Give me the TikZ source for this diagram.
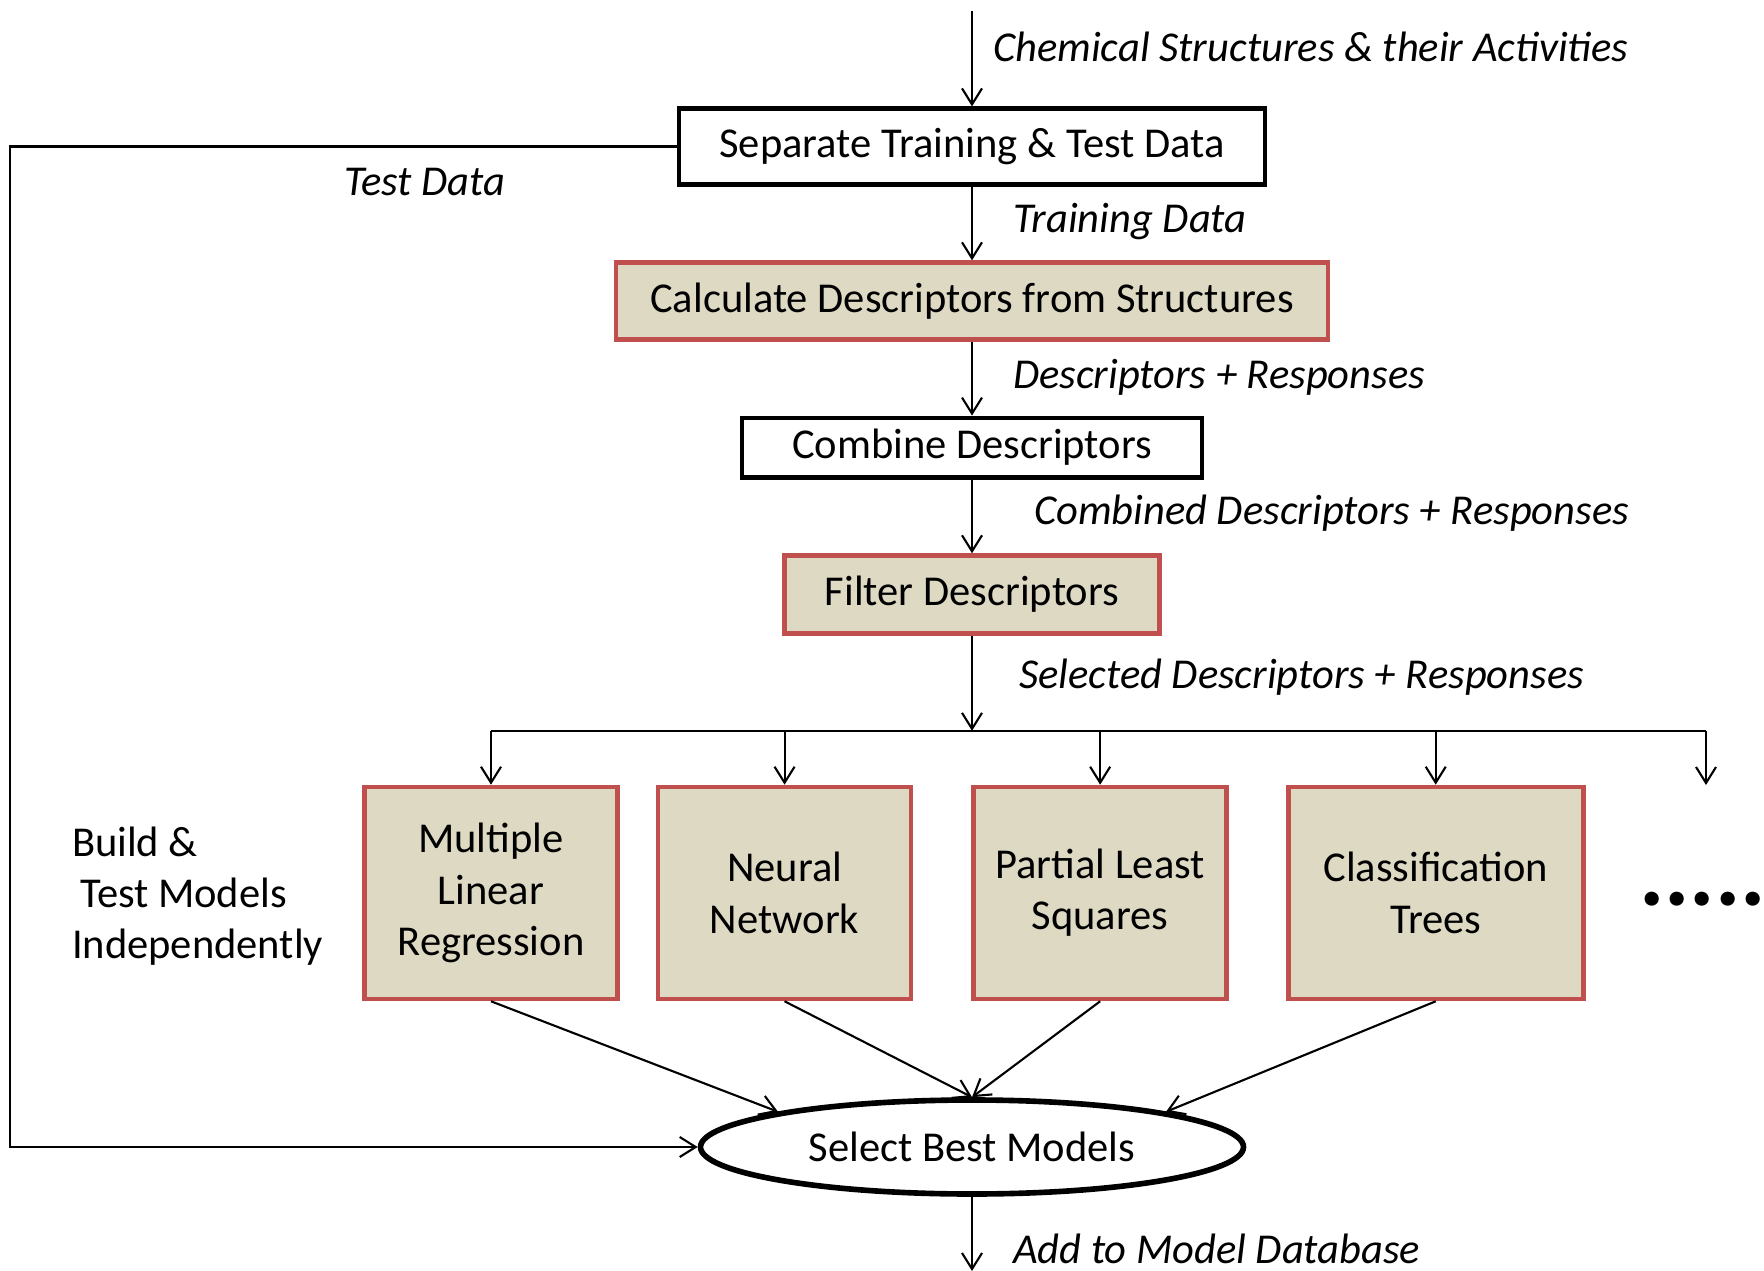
\documentclass[tikz,border=0pt]{standalone}
\usepackage{fontspec}
\setmainfont{Carlito}
\usetikzlibrary{positioning, arrows.meta, shapes.geometric}
\definecolor{boxred}{HTML}{C0504D}
\definecolor{boxtan}{HTML}{DDD9C3}
\tikzset{
    >={Straight Barb[length=1.6mm,width=2mm]}, % open arrow heads
    every node/.style={font=\fontsize{12.1}{14.6}\selectfont},
    plainbox/.style={draw, line width=1.2pt, minimum height=0.76cm},
    redbox/.style={draw=boxred, fill=boxtan, line width=1.3pt, minimum height=0.77cm},
    model/.style={redbox, minimum width=2.53cm, minimum height=2.12cm, align=center},
    lbl/.style={anchor=west, inner sep=0pt, font=\fontsize{12.1}{14.6}\selectfont\itshape}
}

\begin{document}
\begin{tikzpicture}[line width=0.6pt]
        \useasboundingbox (0,0) rectangle (17.64,-12.71);

        \node[plainbox, minimum width=5.86cm] (sep) at (9.72,-1.465) {Separate Training \& Test Data};
        \node[redbox, minimum width=7.12cm] (calc) [below = 0.737cm of sep] {Calculate Descriptors from Structures};
        \node[plainbox, minimum width=4.6cm, minimum height=0.58cm] (comb) [below = 0.737cm of calc] {Combine Descriptors};
        \node[redbox, minimum width=3.75cm, minimum height=0.78cm] (filt) [below = 0.737cm of comb] {Filter Descriptors};
        \coordinate[below = 0.95cm of filt] (bus);

        \node[model] (mlr) at (4.91,-8.93) {Multiple\\Linear\\Regression};
        \node[model] (nn) [right = 0.36cm of mlr] {Neural\\Network};
        \node[model] (pls) [right = 0.58cm of nn] {Partial Least\\Squares};
        \node[model, minimum width=2.95cm] (ct) [right = 0.57cm of pls] {Classification\\Trees};
        \coordinate (more) at (17.06,-7.85);
        \node[anchor=west, inner sep=0pt, font=\fontsize{27}{29}\selectfont\bfseries] (dots) at (16.38,-8.99) {.....};

        \node[ellipse, draw, line width=1.6pt, minimum width=5.43cm, minimum height=0.94cm] (best) at (9.72,-11.47) {Select Best Models};

        \node[anchor=west, align=left, inner sep=0pt] (build) at (0.71,-8.96) {Build \&\\\hspace*{0.08cm}Test Models\\Independently};

        \coordinate (src) at (9.72,-0.11);
        \coordinate (sink) at (9.72,-12.71);
        \coordinate (edge) at (0.10,0);

        % labels on the flow
        \node[lbl] (chem) at (9.92,-0.47) {Chemical Structures \& their Activities};
        \node[lbl] (train) at (10.12,-2.22) {Training Data};
        \node[lbl] (test) at (3.43,-1.82) {Test Data};
        \node[lbl] (desc) at (10.12,-3.77) {Descriptors + Responses};
        \node[lbl] (combd) at (10.33,-5.13) {Combined Descriptors + Responses};
        \node[lbl] (seld) at (10.18,-6.77) {Selected Descriptors + Responses};
        \node[lbl] (add) at (10.12,-12.49) {Add to Model Database};

        \draw[->] (src) -- (sep);
        \draw[->] (sep) -- (calc);
        \draw[->] (calc) -- (comb);
        \draw[->] (comb) -- (filt);
        \draw[->] (filt) -- (bus);

        \draw (bus -| mlr) -- (bus -| more);
        \foreach \m in {mlr,nn,pls,ct}
            \draw[->] (bus -| \m) -- (\m);
        \draw[->] (bus -| more) -- (more);

        \draw[->] (mlr.south) -- (best.north west);
        \draw[->] (nn.south) -- (best.north);
        \draw[->] (pls.south) -- (best.north);
        \draw[->] (ct.south) -- (best.north east);

        \draw[->] (sep.west) -| (edge |- best) -- (best.west);
        \draw[->] (best) -- (sink);
    \end{tikzpicture}
\end{document}
